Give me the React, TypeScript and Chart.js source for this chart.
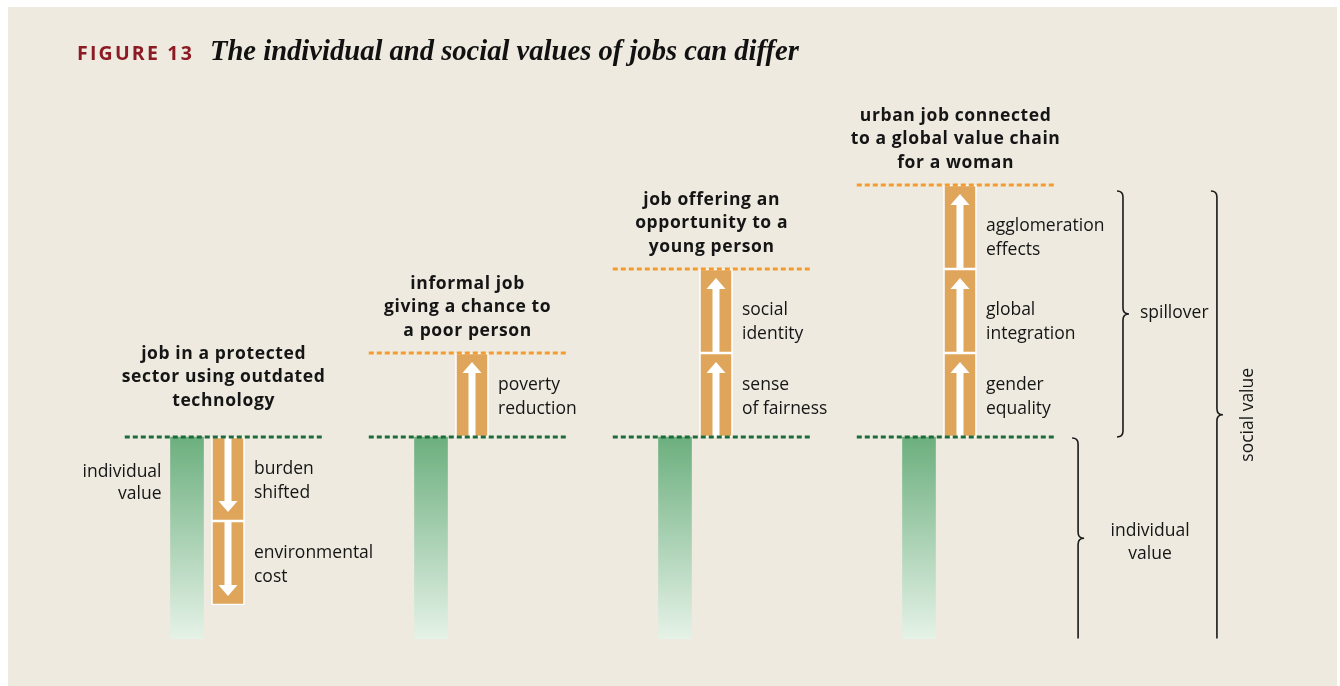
import React, { useEffect, useRef } from "react";
import { Chart, registerables } from "chart.js";
Chart.register(...registerables);

// ---------- data ----------
const jobTitles: string[][] = [
  ["job in a protected", "sector using outdated", "technology"],
  ["informal job", "giving a chance to", "a poor person"],
  ["job offering an", "opportunity to a", "young person"],
  ["urban job connected", "to a global value chain", "for a woman"],
];
const individualValues: number[] = [2.4, 2.4, 2.4, 2.4];
const spilloverValues: number[][] = [[-1, -1], [1], [1, 1], [1, 1, 1]];
const spilloverLabels: string[][][] = [
  [["burden", "shifted"], ["environmental", "cost"]],
  [["poverty", "reduction"]],
  [["sense", "of fairness"], ["social", "identity"]],
  [["gender", "equality"], ["global", "integration"], ["agglomeration", "effects"]],
];
const individualLabel: string[] = ["individual", "value"];
const spilloverBraceLabel = "spillover";
const socialBraceLabel = "social value";
const figureLabel = "FIGURE 13";
const figureTitle = "The individual and social values of jobs can differ";

// ---------- layout / style constants ----------
const W = 1329;
const H = 679;
const X_MIN = -179 / 244;
const X_MAX = (W - 179) / 244;
const Y_MAX = 430 / 84;
const Y_MIN = -(H - 430) / 84;
const ORANGE_OFFSET = 0.168;
const LINE_START = -0.255;
const LINE_END = 0.555;
const BG = "#eeeae0";
const ORANGE = "#dea55b";
const GREEN_TOP = "#6caf7e";
const GREEN_BOTTOM = "#e5f2e7";
const GREEN_DASH = "#1d6b3b";
const ORANGE_DASH = "#f39b2c";
const TEXT = "#151515";
const FONT = '"Open Sans", "Noto Sans", sans-serif';

function sumPositive(a: number[]) {
  return a.reduce((s, v) => s + (v > 0 ? v : 0), 0);
}

function brace(ctx: CanvasRenderingContext2D, x: number, yTop: number, yBot: number, r: number, botHook: boolean) {
  const ym = (yTop + yBot) / 2;
  ctx.beginPath();
  ctx.moveTo(x - r, yTop);
  ctx.quadraticCurveTo(x, yTop, x, yTop + r);
  ctx.lineTo(x, ym - r);
  ctx.quadraticCurveTo(x, ym, x + r, ym);
  ctx.quadraticCurveTo(x, ym, x, ym + r);
  if (botHook) {
    ctx.lineTo(x, yBot - r);
    ctx.quadraticCurveTo(x, yBot, x - r, yBot);
  } else {
    ctx.lineTo(x, yBot);
  }
  ctx.stroke();
}

function lines(ctx: CanvasRenderingContext2D, ls: string[], x: number, yMid: number, lh: number) {
  const y0 = yMid - ((ls.length - 1) * lh) / 2;
  ls.forEach((l, k) => ctx.fillText(l, x, y0 + k * lh));
}

const diagramPlugin = {
  id: "diagram",
  beforeDraw(chart: any) {
    const ctx = chart.ctx as CanvasRenderingContext2D;
    ctx.save();
    ctx.fillStyle = BG;
    ctx.fillRect(0, 0, chart.width, chart.height);
    ctx.restore();
  },
  afterDatasetsDraw(chart: any) {
    const ctx = chart.ctx as CanvasRenderingContext2D;
    const xs = chart.scales.x;
    const ys = chart.scales.y;
    ctx.save();

    // arrows inside spillover segments
    ctx.fillStyle = "#ffffff";
    spilloverValues.forEach((vals, i) => {
      let s = 0;
      const cx = xs.getPixelForValue(i + ORANGE_OFFSET);
      vals.forEach((v) => {
        const a = ys.getPixelForValue(s);
        const b = ys.getPixelForValue(s + v);
        const dir = v > 0 ? -1 : 1;
        const tip = b - dir * 9;
        const base = tip - dir * 11;
        ctx.fillRect(cx - 3.5, Math.min(a, base), 7, Math.abs(base - a));
        ctx.beginPath();
        ctx.moveTo(cx, tip);
        ctx.lineTo(cx - 9.5, base);
        ctx.lineTo(cx + 9.5, base);
        ctx.closePath();
        ctx.fill();
        s += v;
      });
    });

    // dashed reference lines
    ctx.lineWidth = 3;
    ctx.setLineDash([5, 3]);
    spilloverValues.forEach((vals, i) => {
      const x0 = xs.getPixelForValue(i + LINE_START);
      const x1 = xs.getPixelForValue(i + LINE_END);
      const y0 = ys.getPixelForValue(0);
      ctx.strokeStyle = GREEN_DASH;
      ctx.beginPath();
      ctx.moveTo(x0, y0);
      ctx.lineTo(x1, y0);
      ctx.stroke();
      const top = sumPositive(vals);
      if (top > 0) {
        const yt = ys.getPixelForValue(top);
        ctx.strokeStyle = ORANGE_DASH;
        ctx.beginPath();
        ctx.moveTo(x0, yt);
        ctx.lineTo(x1, yt);
        ctx.stroke();
      }
    });
    ctx.setLineDash([]);

    // job titles
    ctx.fillStyle = TEXT;
    ctx.textBaseline = "middle";
    ctx.textAlign = "center";
    ctx.font = `bold 17.5px ${FONT}`;
    (ctx as any).letterSpacing = "0.6px";
    jobTitles.forEach((t, i) => {
      const top = sumPositive(spilloverValues[i]);
      const gap = top > 0 ? 22 : 36;
      const yLast = ys.getPixelForValue(top) - gap;
      const x = xs.getPixelForValue(i + 0.15);
      t.forEach((l, k) => ctx.fillText(l, x, yLast - (t.length - 1 - k) * 23.5));
    });
    (ctx as any).letterSpacing = "0px";

    // segment labels
    ctx.font = `17.5px ${FONT}`;
    ctx.textAlign = "left";
    spilloverValues.forEach((vals, i) => {
      let s = 0;
      const lx = xs.getPixelForValue(i + ORANGE_OFFSET) + 26;
      vals.forEach((v, k) => {
        const shift = v > 0 && k > 0 ? 11 : 2;
        const ym = (ys.getPixelForValue(s) + ys.getPixelForValue(s + v)) / 2 + shift;
        lines(ctx, spilloverLabels[i][k], lx, ym, 23.5);
        s += v;
      });
    });

    // individual value label on first job
    ctx.textAlign = "right";
    {
      const gx = xs.getPixelForValue(0) - 16.5 - 9;
      const y0 = ys.getPixelForValue(0);
      lines(ctx, individualLabel, gx, y0 + 46, 21.5);
    }

    // braces on the right of the last job
    const last = spilloverValues.length - 1;
    const topVal = sumPositive(spilloverValues[last]);
    const yTop = ys.getPixelForValue(topVal) + 6;
    const yZero = ys.getPixelForValue(0);
    const yBot = ys.getPixelForValue(-individualValues[last]);
    ctx.strokeStyle = "#1a1a1a";
    ctx.lineWidth = 1.6;
    const bxSpill = xs.getPixelForValue(last + 0.836);
    const bxInd = xs.getPixelForValue(last + 0.652);
    const bxSoc = xs.getPixelForValue(last + 1.221);
    brace(ctx, bxSpill, yTop, yZero, 6, true);
    brace(ctx, bxInd, yZero + 1, yBot, 6, false);
    brace(ctx, bxSoc, yTop, yBot, 6, false);

    ctx.textAlign = "left";
    ctx.fillText(spilloverBraceLabel, bxSpill + 17, (yTop + yZero) / 2 - 1);
    ctx.textAlign = "center";
    lines(ctx, individualLabel, bxInd + 72, (yZero + yBot) / 2 + 5, 23);
    ctx.save();
    ctx.translate(bxSoc + 31, (yTop + yBot) / 2);
    ctx.rotate(-Math.PI / 2);
    ctx.fillText(socialBraceLabel, 0, 0);
    ctx.restore();

    // figure heading
    ctx.textBaseline = "alphabetic";
    ctx.textAlign = "left";
    ctx.fillStyle = "#8d1b24";
    ctx.font = `bold 19.5px ${FONT}`;
    (ctx as any).letterSpacing = "2.2px";
    ctx.fillText(figureLabel, 69, 53);
    (ctx as any).letterSpacing = "0px";
    ctx.fillStyle = "#111111";
    ctx.font = `italic bold 28.6px "Liberation Serif", "DejaVu Serif", serif`;
    ctx.fillText(figureTitle, 202, 53);

    ctx.restore();
  },
};

export default function App() {
  const ref = useRef<HTMLCanvasElement>(null);
  useEffect(() => {
    const canvas = ref.current!;
    const segData: { x: number; y: [number, number] }[] = [];
    spilloverValues.forEach((vals, i) => {
      let s = 0;
      vals.forEach((v) => {
        const a = s;
        const b = s + v;
        segData.push({ x: i + ORANGE_OFFSET, y: [Math.min(a, b), Math.max(a, b)] });
        s = b;
      });
    });
    const chart = new Chart(canvas, {
      type: "bar",
      data: {
        datasets: [
          {
            label: "individual value",
            data: individualValues.map((v, i) => ({ x: i, y: [-v, 0] })) as any,
            backgroundColor: (c: any) => {
              const ch = c.chart;
              if (!ch.chartArea) return GREEN_TOP;
              const ys = ch.scales.y;
              const v = individualValues[c.dataIndex] ?? 2.4;
              const g = ch.ctx.createLinearGradient(0, ys.getPixelForValue(0), 0, ys.getPixelForValue(-v));
              g.addColorStop(0, GREEN_TOP);
              g.addColorStop(1, GREEN_BOTTOM);
              return g;
            },
            borderWidth: 0,
            barThickness: 33,
            grouped: false,
          } as any,
          {
            label: "spillover",
            data: segData as any,
            backgroundColor: ORANGE,
            borderColor: "#ffffff",
            borderWidth: 1.6,
            borderSkipped: false,
            barThickness: 33,
            grouped: false,
          } as any,
        ],
      },
      options: {
        responsive: false,
        animation: false,
        events: [],
        layout: { padding: 0 },
        scales: {
          x: { type: "linear", min: X_MIN, max: X_MAX, display: false, offset: false },
          y: { type: "linear", min: Y_MIN, max: Y_MAX, display: false },
        },
        plugins: { legend: { display: false }, tooltip: { enabled: false } },
      } as any,
      plugins: [diagramPlugin],
    });
    if ((document as any).fonts && (document as any).fonts.ready) {
      (document as any).fonts.ready.then(() => chart.update());
    }
    return () => chart.destroy();
  }, []);
  return (
    <div style={{ position: "absolute", left: 8, top: 7, width: W, height: H }}>
      <canvas ref={ref} width={W} height={H} style={{ display: "block", width: W, height: H }} />
    </div>
  );
}
